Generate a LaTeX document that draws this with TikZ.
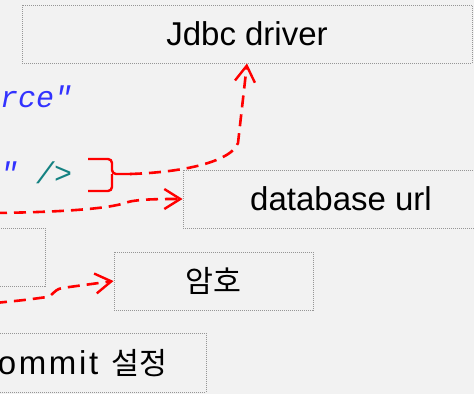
\documentclass[tikz,border=0pt]{standalone}
\usepackage{fontspec}
\setmainfont{Liberation Sans}
\newfontfamily\kr{Noto Sans CJK KR}[Scale=0.92]
\newfontfamily\codefont{Liberation Mono}
\usetikzlibrary{arrows.meta}
\definecolor{bgcol}{HTML}{F2F2F2}
\definecolor{boxline}{RGB}{150,150,150}
\definecolor{strblue}{RGB}{50,50,255}
\definecolor{tagteal}{RGB}{20,130,130}
\definecolor{markred}{RGB}{255,0,0}
\tikzset{
  labelbox/.style={draw=boxline, line width=0.9pt, dash pattern=on 1pt off 1pt,
    fill=bgcol, inner sep=0pt, text height=23.8pt, text depth=0pt,
    font=\fontsize{33}{33}\selectfont},
  codetext/.style={inner sep=0pt, anchor=base west, font=\codefont\itshape\fontsize{30}{30}\selectfont},
  pointer/.style={draw=markred, line width=2.6pt, dash pattern=on 12pt off 7pt,
    -{Straight Barb[length=16pt, width=20pt, line width=2.4pt]}},
  bracepen/.style={draw=markred, line width=2.4pt, rounded corners=4pt}
}
\begin{document}
\begin{tikzpicture}[x=1pt, y=-1pt]
  \useasboundingbox (0,0) rectangle (474,394);
  \fill[bgcol] (0,0) rectangle (474,394);

  % boxes
  \node[labelbox, minimum width=450pt, minimum height=58pt] (jdbc) at (247,34) {Jdbc driver};
  \node[labelbox, minimum width=316pt, minimum height=58pt] (url) at (341,199) {database url};
  \node[labelbox, minimum width=75pt, minimum height=58pt] (left) at (7.5,257) {};
  \node[labelbox, minimum width=199pt, minimum height=58pt] (pw) at (213.5,281) {\kr 암호};
  \node[labelbox, minimum width=266pt, minimum height=59pt] (commit) at (73,362.5)
    {{\addfontfeature{LetterSpace=8}commit}\hspace{4pt} {\kr 설정}};

  % code fragments
  \node[codetext, text=strblue] (src) at (0,107) {rce"};
  \node[codetext, text=strblue] (q) at (0,183) {"};
  \node[codetext, text=tagteal] (tag) at (36,183) {/>};

  % brace grouping the code line
  \draw[bracepen] (88,159) -- (112,159) -- (112,174) -- (132,174);
  \draw[bracepen] (88,191) -- (112,191) -- (112,174);
  \coordinate (bt) at (130,174);

  % free ends of the incoming connectors
  \coordinate (s2) at (-5,213);
  \coordinate (s3) at (-5,303);

  % connectors
  \draw[pointer] (bt) .. controls (190,172) and (232,160) .. (238,143) -- (jdbc.south);
  \draw[pointer] (s2) .. controls (70,212) and (110,208) .. (125,203)
    .. controls (135,199) and (160,199) .. (url.west);
  \draw[pointer] (s3) .. controls (25,300) .. (47,297)
    .. controls (53,296) and (53,290) .. (62,288) -- (pw.west);
\end{tikzpicture}
\end{document}
